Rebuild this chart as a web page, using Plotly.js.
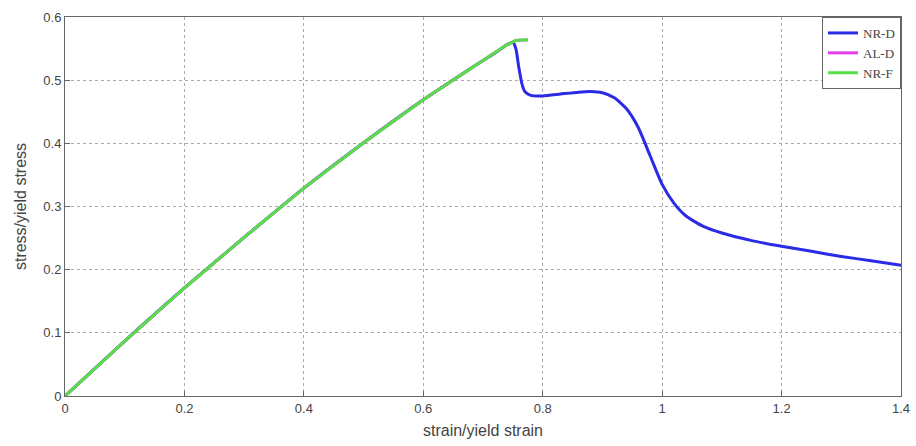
<!DOCTYPE html>
<html><head><meta charset="utf-8">
<script src="https://cdn.plot.ly/plotly-3.0.1.min.js"></script>
<style>html,body{margin:0;padding:0;background:#fff}</style>
</head><body><div id="chart" style="width:916px;height:446px"></div>
<script>
const nrdX = [0, 0.1, 0.2, 0.3, 0.4, 0.5, 0.6, 0.68, 0.72, 0.74, 0.75, 0.755, 0.76, 0.765, 0.77, 0.78, 0.8, 0.83, 0.86, 0.88, 0.9, 0.92, 0.94, 0.96, 0.98, 1.0, 1.02, 1.04, 1.07, 1.1, 1.15, 1.2, 1.25, 1.3, 1.35, 1.4];
const nrdY = [0, 0.087, 0.171, 0.251, 0.329, 0.401, 0.469, 0.519, 0.543, 0.556, 0.56, 0.55, 0.52, 0.495, 0.482, 0.476, 0.475, 0.478, 0.481, 0.482, 0.48, 0.472, 0.455, 0.425, 0.38, 0.335, 0.305, 0.285, 0.268, 0.258, 0.246, 0.237, 0.229, 0.221, 0.214, 0.207];
const alX = [0, 0.1, 0.2, 0.3, 0.4, 0.5, 0.6, 0.68, 0.72, 0.74, 0.755, 0.775];
const alY = [0, 0.087, 0.171, 0.251, 0.329, 0.401, 0.469, 0.519, 0.543, 0.556, 0.563, 0.564];
const nrfX = [0, 0.1, 0.2, 0.3, 0.4, 0.5, 0.6, 0.68, 0.72, 0.74, 0.755, 0.775];
const nrfY = [0, 0.087, 0.171, 0.251, 0.329, 0.401, 0.469, 0.519, 0.543, 0.556, 0.563, 0.564];
const xTicks = [0, 0.2, 0.4, 0.6, 0.8, 1, 1.2, 1.4];
const yTicks = [0, 0.1, 0.2, 0.3, 0.4, 0.5, 0.6];

const traces = [
  {x: nrdX, y: nrdY, name: 'NR-D', mode: 'lines', line: {color: '#2b2be6', width: 3, shape: 'spline', smoothing: 0.6}},
  {x: alX, y: alY, name: 'AL-D', mode: 'lines', line: {color: '#e040e6', width: 3}},
  {x: nrfX, y: nrfY, name: 'NR-F', mode: 'lines', line: {color: '#55e046', width: 3}}
];
const axisCommon = {
  showline: true, mirror: true, linecolor: '#666', linewidth: 1,
  showgrid: true, gridcolor: '#aaa', griddash: 'dot', gridwidth: 1,
  zeroline: false, ticks: 'inside', ticklen: 5, tickcolor: '#666',
  tickfont: {family: 'Arial, Liberation Sans, sans-serif', size: 13, color: '#444'}
};
const layout = {
  width: 916, height: 446,
  margin: {l: 65, r: 15, t: 17, b: 50},
  paper_bgcolor: '#fff', plot_bgcolor: '#fff',
  showlegend: true,
  legend: {x: 1, y: 1, xanchor: 'right', yanchor: 'top', bgcolor: '#fff', bordercolor: '#666', borderwidth: 1,
    font: {family: 'Liberation Serif, Times New Roman, serif', size: 13, color: '#444'}, tracegroupgap: 0, itemwidth: 30},
  xaxis: Object.assign({}, axisCommon, {range: [0, 1.4], tickvals: xTicks, ticktext: xTicks.map(String),
    title: {text: 'strain/yield strain', font: {family: 'Arial, Liberation Sans, sans-serif', size: 16, color: '#444'}, standoff: 10}}),
  yaxis: Object.assign({}, axisCommon, {range: [0, 0.6], tickvals: yTicks, ticktext: yTicks.map(String),
    title: {text: 'stress/yield stress', font: {family: 'Arial, Liberation Sans, sans-serif', size: 16, color: '#444'}, standoff: 12}})
};
Plotly.newPlot('chart', traces, layout, {displayModeBar: false, staticPlot: true});
</script></body></html>
